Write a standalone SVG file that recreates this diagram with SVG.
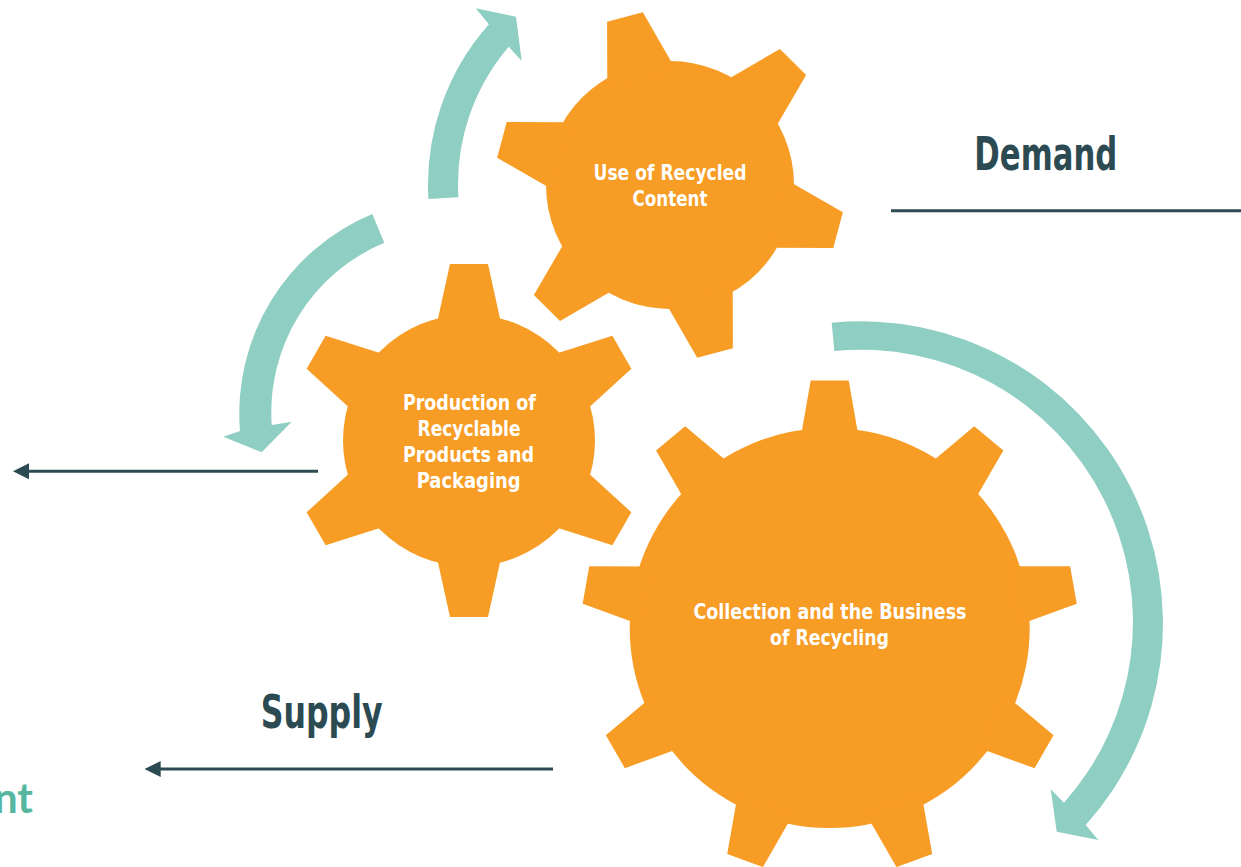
<svg xmlns="http://www.w3.org/2000/svg" xmlns:xlink="http://www.w3.org/1999/xlink" width="1241" height="867" viewBox="0 0 1241 867">
<style>
.gear{fill:#f79c24}
.gt{font-family:"Liberation Sans Narrow","DejaVu Sans Condensed","Liberation Sans",sans-serif;font-weight:bold;font-size:22px;fill:#ffffff;text-anchor:middle}
.lbl{font-family:"Liberation Sans Narrow","DejaVu Sans Condensed","Liberation Sans",sans-serif;font-weight:bold;font-size:46px;fill:#2c4a52;text-anchor:middle}
.cyc{fill:#8fcec3}
.flow{stroke:#2c4a52;stroke-width:3;fill:none}
</style>
<defs>
<polygon id="t1" points="-35.4,-110 -18.5,-174 18.5,-174 35.4,-110"/>
<polygon id="t2" points="-33.2,-112 -19,-176.5 19,-176.5 33.2,-112"/>
<polygon id="t3" points="-29.6,-187 -19,-247.5 19,-247.5 29.6,-187"/>
<marker id="ah" viewBox="0 0 16 16" refX="9" refY="8" markerWidth="16" markerHeight="16" markerUnits="userSpaceOnUse" orient="auto">
<polygon points="0,0 16,8 0,16" fill="#2c4a52"/>
</marker>
</defs>
<rect width="1241" height="867" fill="#ffffff"/>

<g id="connectors">
<path id="cycle-a" class="cyc" d="M 428.4 198.9 A 242 242 0 0 1 488.9 24.2 L 475.7 8.3 L 516 16.7 L 521.7 61 L 508.7 46.7 A 212 212 0 0 0 458.4 197.2 Z"/>
<path id="cycle-b" class="cyc" d="M 372.3 214 A 216 216 0 0 0 240 431 L 223.3 436.7 L 261.7 452.3 L 291.7 421.7 L 271.7 425 A 184 184 0 0 1 384.3 242.7 Z"/>
<path id="cycle-c" class="cyc" d="M 831.7 322.7 A 302 302 0 0 1 1085.7 825 L 1098.3 840 L 1056.7 831.7 L 1050.7 789.3 L 1064 802.7 A 272 272 0 0 0 834.3 351 Z"/>
<line id="flow-production" class="flow" x1="318" y1="471.3" x2="20" y2="471.3" marker-end="url(#ah)"/>
<line id="flow-supply" class="flow" x1="553" y1="769" x2="151.7" y2="769" marker-end="url(#ah)"/>
<line id="demand-line" class="flow" x1="891" y1="210.7" x2="1241" y2="210.7"/>
</g>

<g id="gear-use">
<g class="gear" transform="translate(670 185)">
<circle r="124"/>
<use xlink:href="#t1" transform="rotate(-15)"/>
<use xlink:href="#t1" transform="rotate(45)"/>
<use xlink:href="#t1" transform="rotate(105)"/>
<use xlink:href="#t1" transform="rotate(165)"/>
<use xlink:href="#t1" transform="rotate(225)"/>
<use xlink:href="#t1" transform="rotate(285)"/>
</g>
<text class="gt" x="670" y="180" textLength="153" lengthAdjust="spacingAndGlyphs">Use of Recycled</text>
<text class="gt" x="670" y="206" textLength="75" lengthAdjust="spacingAndGlyphs">Content</text>
</g>

<g id="gear-production">
<g class="gear" transform="translate(469 440.5)">
<circle r="126"/>
<use xlink:href="#t2"/>
<use xlink:href="#t2" transform="rotate(60)"/>
<use xlink:href="#t2" transform="rotate(120)"/>
<use xlink:href="#t2" transform="rotate(180)"/>
<use xlink:href="#t2" transform="rotate(240)"/>
<use xlink:href="#t2" transform="rotate(300)"/>
</g>
<text class="gt" x="469.4" y="410" textLength="133" lengthAdjust="spacingAndGlyphs">Production of</text>
<text class="gt" x="469" y="435.5" textLength="103" lengthAdjust="spacingAndGlyphs">Recyclable</text>
<text class="gt" x="468.5" y="461.7" textLength="131" lengthAdjust="spacingAndGlyphs">Products and</text>
<text class="gt" x="468.7" y="487.7" textLength="104" lengthAdjust="spacingAndGlyphs">Packaging</text>
</g>

<g id="gear-collection">
<g class="gear" transform="translate(829.7 628)">
<circle r="200"/>
<use xlink:href="#t3"/>
<use xlink:href="#t3" transform="rotate(40)"/>
<use xlink:href="#t3" transform="rotate(80)"/>
<use xlink:href="#t3" transform="rotate(120)"/>
<use xlink:href="#t3" transform="rotate(160)"/>
<use xlink:href="#t3" transform="rotate(200)"/>
<use xlink:href="#t3" transform="rotate(240)"/>
<use xlink:href="#t3" transform="rotate(280)"/>
<use xlink:href="#t3" transform="rotate(320)"/>
</g>
<text class="gt" x="830" y="619" textLength="273" lengthAdjust="spacingAndGlyphs">Collection and the Business</text>
<text class="gt" x="829.5" y="645" textLength="119" lengthAdjust="spacingAndGlyphs">of Recycling</text>
</g>

<g id="label-demand">
<text class="lbl" x="1045.8" y="170" textLength="143" lengthAdjust="spacingAndGlyphs">Demand</text>
</g>
<g id="label-supply">
<text class="lbl" x="321.7" y="727.7" textLength="122" lengthAdjust="spacingAndGlyphs">Supply</text>
</g>
<g id="label-cut">
<text x="33" y="812.7" font-family="Lato, 'Noto Sans', sans-serif" font-weight="bold" font-size="42" fill="#56b6a0" text-anchor="end">nt</text>
</g>
</svg>
